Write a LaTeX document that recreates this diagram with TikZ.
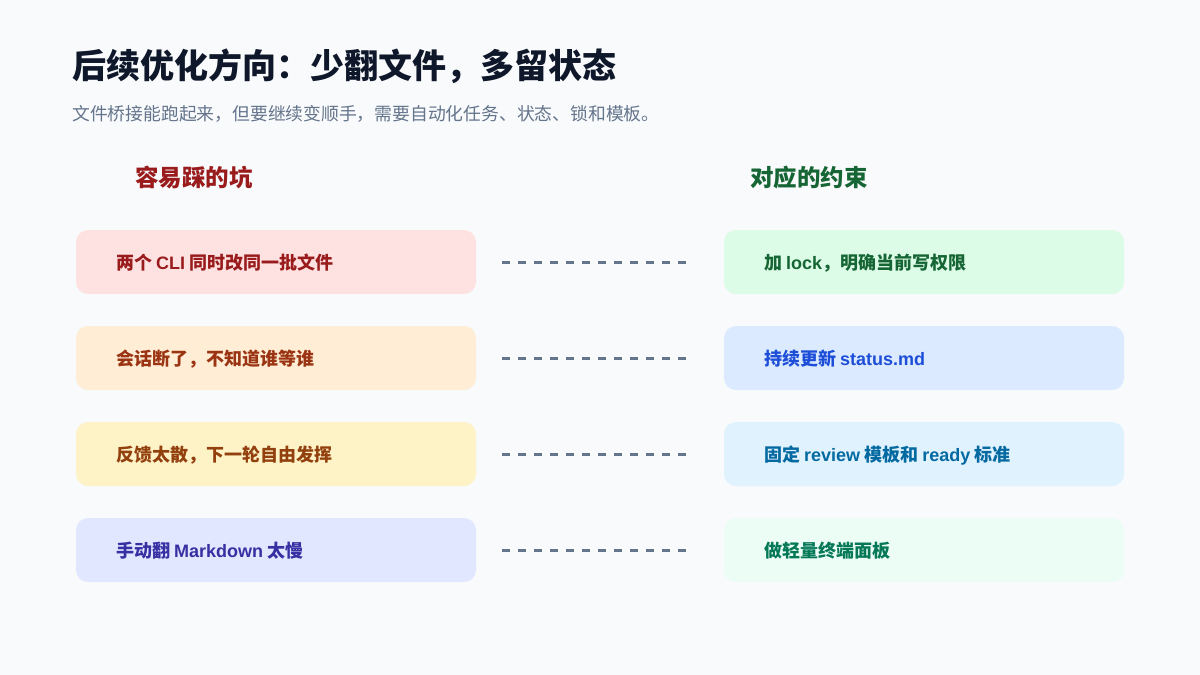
\documentclass[tikz,border=0pt]{standalone}
\usepackage{fontspec}
\setmainfont{Noto Sans CJK SC}
\newfontfamily\latf{Liberation Sans}
\newcommand{\lw}[1]{{\latf #1}}
\begin{document}
\begin{tikzpicture}[x=1pt,y=-1pt,
  txt/.style={anchor=base west,inner sep=0pt,font=\fontsize{18}{18}\selectfont\bfseries},
  card/.style={draw=none,rounded corners=12pt,minimum width=400pt,minimum height=64pt,inner sep=0pt},
  link/.style={line width=3pt,draw=slateline,dash pattern=on 8pt off 8pt}]
\definecolor{bg}{HTML}{F8FAFC}
\definecolor{titlec}{HTML}{0F172A}
\definecolor{subc}{HTML}{64748B}
\definecolor{slateline}{HTML}{64748B}
\definecolor{f1l}{HTML}{FEE2E2}\definecolor{t1l}{HTML}{991B1B}
\definecolor{f1r}{HTML}{DCFCE7}\definecolor{t1r}{HTML}{166534}
\definecolor{f2l}{HTML}{FFEDD5}\definecolor{t2l}{HTML}{9A3412}
\definecolor{f2r}{HTML}{DBEAFE}\definecolor{t2r}{HTML}{1D4ED8}
\definecolor{f3l}{HTML}{FEF3C7}\definecolor{t3l}{HTML}{92400E}
\definecolor{f3r}{HTML}{E0F2FE}\definecolor{t3r}{HTML}{0369A1}
\definecolor{f4l}{HTML}{E0E7FF}\definecolor{t4l}{HTML}{3730A3}
\definecolor{f4r}{HTML}{ECFDF5}\definecolor{t4r}{HTML}{047857}
\fill[bg] (0,0) rectangle (1200,675);
\useasboundingbox (0,0) rectangle (1200,675);
\node[anchor=base west,inner sep=0pt,text=titlec,font=\fontsize{34}{34}\selectfont\bfseries] (title) at (72,78) {后续优化方向：少翻文件，多留状态};
\node[anchor=base west,inner sep=0pt,text=subc,font=\fontsize{17.8}{18}\selectfont] (sub) at (72,120) {文件桥接能跑起来，但要继续变顺手，需要自动化任务、状态、锁和模板。};
\node[anchor=base west,inner sep=0pt,text=t1l,font=\fontsize{23.5}{24}\selectfont\bfseries] (hl) at (135,186) {容易踩的坑};
\node[anchor=base west,inner sep=0pt,text=t1r,font=\fontsize{23.5}{24}\selectfont\bfseries] (hr) at (750,186) {对应的约束};
\foreach \i/\y/\lt/\rt in {1/262/{两个 \lw{CLI} 同时改同一批文件}/{加 \lw{lock}，明确当前写权限},
  2/358/{会话断了，不知道谁等谁}/{持续更新 \lw{status.md}},
  3/454/{反馈太散，下一轮自由发挥}/{固定 \lw{review} 模板和 \lw{ready} 标准},
  4/550/{手动翻 \lw{Markdown} 太慢}/做轻量终端面板}{
  \node[card,fill=f\i l] (L\i) at (276,\y) {};
  \node[card,fill=f\i r] (R\i) at (924,\y) {};
  \node[txt,text=t\i l] (LT\i) at ([xshift=40pt,yshift=-7pt]L\i.west) {\lt};
  \node[txt,text=t\i r] (RT\i) at ([xshift=40pt,yshift=-7pt]R\i.west) {\rt};
  \draw[link] ([xshift=26pt]L\i.east) -- ([xshift=-38pt]R\i.west);
}
\end{tikzpicture}
\end{document}
